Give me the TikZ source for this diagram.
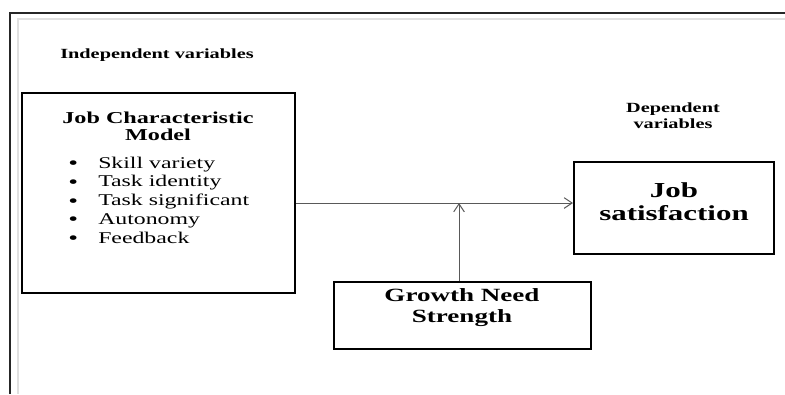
\documentclass[tikz,border=0pt]{standalone}
\usepackage{fontspec}
\setmainfont{Liberation Serif}[FakeStretch=1.45]
\usetikzlibrary{arrows.meta,positioning,calc}
\tikzset{
  frameline/.style={line width=1.5pt, black!85},
  frameshade/.style={line width=0.8pt, black!12},
  varbox/.style={draw, line width=1.5pt, inner sep=0pt},
  vartag/.style={font=\fontsize{10.5}{11.5}\selectfont\bfseries, align=center, inner sep=0pt, anchor=base},
  boxtitle/.style={font=\fontsize{12.5}{12.75}\selectfont\bfseries, align=center, inner sep=0pt, anchor=base},
  trait/.style={font=\fontsize{12.3}{14}\selectfont, anchor=base west, inner sep=0pt},
  flow/.style={-{Straight Barb[length=6pt, width=8pt]}, line width=0.75pt, black!65}
}
\newcommand{\traitbullet}{\makebox[22.5pt][l]{\smash{\raisebox{-1.2pt}{\fontsize{14.5}{14.5}\selectfont\textbullet}}}}

\begin{document}
\begin{tikzpicture}[x=0.75pt, y=-0.75pt]
  \useasboundingbox (0,0) rectangle (785,394);
  % page frame
  \draw[frameshade] (18,394) -- (18,19) -- (785,19);
  \draw[frameline] (10,394) -- (10,13) -- (785,13);

  % boxes
  \node[varbox, minimum width=204.75pt, minimum height=150pt] (jcm) at (158.5,193) {};
  \node[varbox, minimum width=150pt, minimum height=69pt] (js) at (674,208) {};
  \node[varbox, minimum width=192.75pt, minimum height=50.25pt] (gns) at (462.5,315.5) {};

  % labels
  \node[vartag] (indep) at (157,58) {Independent variables};
  \node[vartag] (dep) at (673,128) {Dependent\\variables};
  \node[boxtitle] (jcmtitle) at (158,140) {Job Characteristic\\Model};
  \foreach \trait [count=\k] in {Skill variety, Task identity, Task significant, Autonomy, Feedback}
    \node[trait] (trait\k) at (68,149.25+18.75*\k) {\traitbullet\trait};
  \node[boxtitle, font=\fontsize{16}{17}\selectfont\bfseries] (jstitle) at (674,220) {Job\\satisfaction};
  \node[boxtitle, font=\fontsize{14}{15.75}\selectfont\bfseries] (gnstitle) at (462,322) {Growth Need\\Strength};

  % connectors
  \coordinate (joint) at (459,203);
  \draw[flow] (jcm.east |- joint) -- (js.west |- joint);
  \draw[flow] (gns.north -| joint) -- (joint);
\end{tikzpicture}
\end{document}
